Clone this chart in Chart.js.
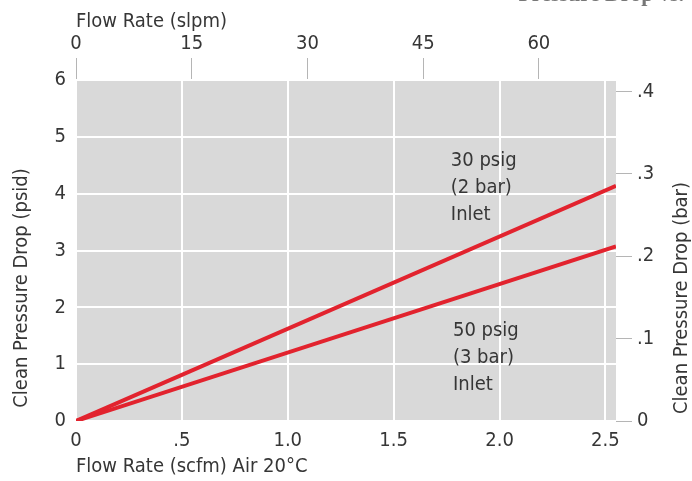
<!DOCTYPE html>
<html>
<head>
<meta charset="utf-8">
<script src="https://cdn.jsdelivr.net/npm/chart.js@4"></script>
<style>
  html, body { margin: 0; padding: 0; background: #fff; }
  #wrap { width: 692px; height: 481px; }
</style>
</head>
<body>
<div id="wrap"><canvas id="grafico"></canvas></div>
<script>
// datos
const flowScfm = [0, 2.55];
const drop30psig = [0, 4.14];
const drop50psig = [0, 3.07];
const psidTicks = [0, 1, 2, 3, 4, 5, 6];
const barTicks = [0, 0.1, 0.2, 0.3, 0.4];
const scfmTicks = [0, 0.5, 1, 1.5, 2, 2.5];
const slpmTicks = [0, 15, 30, 45, 60];
const labels30 = ['30 psig', '(2 bar)', 'Inlet'];
const labels50 = ['50 psig', '(3 bar)', 'Inlet'];

const FAMILIA = "'Liberation Sans Narrow', 'DejaVu Sans Condensed', 'Roboto Condensed', Roboto, sans-serif";
const TEXTO = '#363636';
const ROJO = '#e2232e';

function sinCero(v) {
    if (v === 0) return '0';
    const s = Number.isInteger(v * 2) && v >= 1 ? v.toFixed(1) : String(+v.toFixed(2));
    return s.replace(/^0\./, '.');
}

const fondoGris = {
    id: 'fondoGris',
    beforeDraw(chart) {
        const { ctx, chartArea: a } = chart;
        ctx.save();
        ctx.fillStyle = '#d9d9d9';
        ctx.fillRect(a.left, a.top, a.right - a.left, a.bottom - a.top);
        ctx.restore();
    }
};

const textos = {
    id: 'textos',
    afterDraw(chart) {
        const { ctx } = chart;
        const xs = chart.scales.x, ys = chart.scales.y;
        ctx.save();
        ctx.fillStyle = TEXTO;
        ctx.font = '20px ' + FAMILIA;
        ctx.textBaseline = 'middle';
        ctx.textAlign = 'left';
        ctx.fillText('Flow Rate (slpm)', 76, 22);
        ctx.fillText('Flow Rate (scfm) Air 20°C', 76, 467);

        ctx.save();
        ctx.translate(22, 288);
        ctx.rotate(-Math.PI / 2);
        ctx.textAlign = 'center';
        ctx.fillText('Clean Pressure Drop (psid)', 0, 0);
        ctx.restore();

        ctx.save();
        ctx.translate(682, 298);
        ctx.rotate(-Math.PI / 2);
        ctx.textAlign = 'center';
        ctx.fillText('Clean Pressure Drop (bar)', 0, 0);
        ctx.restore();

        // etiquetas de las curvas
        [[labels30, 1.77, 4.58], [labels50, 1.78, 1.58]].forEach(([lineas, vx, vy]) => {
            const px = xs.getPixelForValue(vx);
            const py = ys.getPixelForValue(vy);
            lineas.forEach((t, i) => ctx.fillText(t, px, py + i * 27));
        });

        // titulo cortado arriba
        ctx.fillStyle = '#777';
        ctx.font = "bold 22px 'Liberation Serif', serif";
        ctx.textAlign = 'right';
        ctx.textBaseline = 'alphabetic';
        ctx.fillText('Pressure Drop vs.', 684, 1);
        ctx.restore();
    }
};

Chart.defaults.font.family = FAMILIA;
Chart.defaults.font.size = 20;
Chart.defaults.color = TEXTO;

new Chart(document.getElementById('grafico'), {
    type: 'line',
    data: {
        datasets: [
            {
                label: '30 psig (2 bar) Inlet',
                data: flowScfm.map((x, i) => ({ x, y: drop30psig[i] })),
                borderColor: ROJO,
                borderWidth: 4,
                pointRadius: 0,
                xAxisID: 'x',
                yAxisID: 'y'
            },
            {
                label: '50 psig (3 bar) Inlet',
                data: flowScfm.map((x, i) => ({ x, y: drop50psig[i] })),
                borderColor: ROJO,
                borderWidth: 4,
                pointRadius: 0,
                xAxisID: 'x',
                yAxisID: 'y'
            }
        ]
    },
    options: {
        responsive: true,
        maintainAspectRatio: false,
        animation: false,
        layout: { padding: 0 },
        plugins: {
            legend: { display: false },
            tooltip: { enabled: false }
        },
        scales: {
            x: {
                type: 'linear',
                position: 'bottom',
                min: 0,
                max: 2.55,
                afterBuildTicks: s => { s.ticks = scfmTicks.map(v => ({ value: v })); },
                afterFit: s => { s.height = 60; },
                ticks: { padding: 8, maxRotation: 0, autoSkip: false, callback: v => sinCero(v) },
                grid: { color: '#ffffff', lineWidth: 2, drawTicks: false },
                border: { display: false }
            },
            x2: {
                type: 'linear',
                position: 'top',
                min: 0,
                max: 70,
                afterBuildTicks: s => { s.ticks = slpmTicks.map(v => ({ value: v })); },
                afterFit: s => { s.height = 80; },
                ticks: { padding: 2, maxRotation: 0, autoSkip: false },
                grid: { drawOnChartArea: false, drawTicks: true, tickLength: 22, tickColor: '#b5b5b5', lineWidth: 1 },
                border: { display: false }
            },
            y: {
                type: 'linear',
                position: 'left',
                min: 0,
                max: 6,
                afterBuildTicks: s => { s.ticks = psidTicks.map(v => ({ value: v })); },
                afterFit: s => { s.width = 76; },
                ticks: { padding: 10 },
                grid: { color: '#ffffff', lineWidth: 2, drawTicks: false },
                border: { display: false }
            },
            y2: {
                type: 'linear',
                position: 'right',
                min: 0,
                max: 6 / 14.5,
                afterBuildTicks: s => { s.ticks = barTicks.map(v => ({ value: v })); },
                afterFit: s => { s.width = 76; },
                ticks: { padding: 5, callback: v => sinCero(v) },
                grid: { drawOnChartArea: false, drawTicks: true, tickLength: 16, tickColor: '#b5b5b5', lineWidth: 1 },
                border: { display: false }
            }
        }
    },
    plugins: [fondoGris, textos]
});
</script>
</body>
</html>
